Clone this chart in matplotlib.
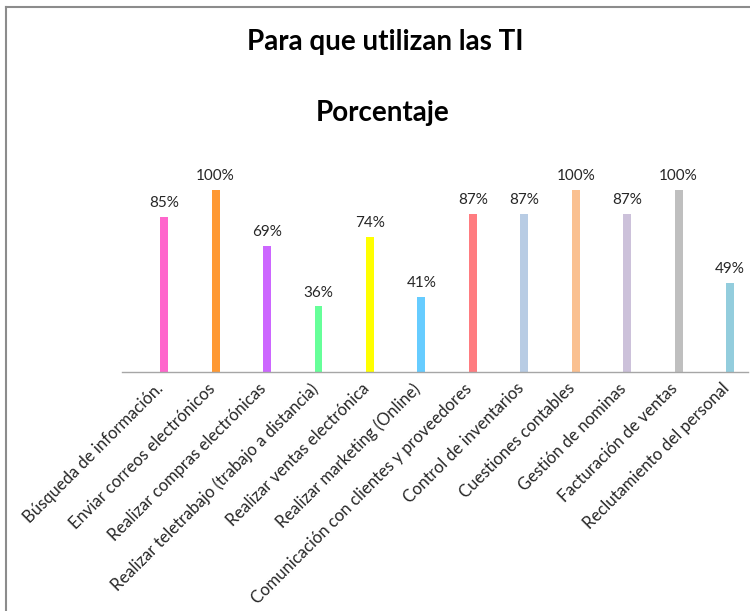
import matplotlib.pyplot as plt
import matplotlib.transforms as mtransforms
from matplotlib.lines import Line2D

plt.rcParams["font.family"] = ["Lato", "DejaVu Sans"]

categories = [
    "Búsqueda de información.",
    "Enviar correos electrónicos",
    "Realizar compras electrónicas",
    "Realizar teletrabajo (trabajo a distancia)",
    "Realizar ventas electrónica",
    "Realizar marketing (Online)",
    "Comunicación con clientes y proveedores",
    "Control de inventarios",
    "Cuestiones contables",
    "Gestión de nominas",
    "Facturación de ventas",
    "Reclutamiento del personal",
]
values = [85, 100, 69, 36, 74, 41, 87, 87, 100, 87, 100, 49]
colors = [
    "#FF66CC", "#FF9933", "#CC66FF", "#66FF99", "#FFFF00", "#66CCFF",
    "#FF7C80", "#B8CCE4", "#FAC090", "#CCC1DA", "#BFBFBF", "#93CDDD",
]

W, H = 750, 611
fig = plt.figure(figsize=(W / 100, H / 100), dpi=100)
ax = fig.add_axes([122 / W, (H - 372) / H, 626 / W, 182 / H])

x = list(range(len(values)))
ax.bar(x, values, width=0.155, color=colors, zorder=2)
ax.set_xlim(-0.82, 11.35)
ax.set_ylim(0, 100)

for xi, v in zip(x, values):
    ax.annotate(f"{v}%", (xi, v), xytext=(0, 5), textcoords="offset points",
                ha="center", va="bottom", fontsize=11, color="#262626",
                annotation_clip=False)

ax.set_xticks(x)
ax.set_xticklabels(categories, rotation=45, ha="right", va="top",
                   rotation_mode="anchor", fontsize=12, color="#262626")
ax.tick_params(axis="x", length=0, pad=6)
shift = mtransforms.ScaledTranslation(-9 / 100, 0, fig.dpi_scale_trans)
for lab in ax.get_xticklabels():
    lab.set_transform(lab.get_transform() + shift)
ax.set_yticks([])
for side in ["top", "right", "left"]:
    ax.spines[side].set_visible(False)
ax.spines["bottom"].set_color("#A6A6A6")
ax.spines["bottom"].set_linewidth(1)

fig.text(385 / W, 1 - 42 / H, "Para que utilizan las TI", ha="center", va="center",
         fontsize=20, fontweight="bold", color="black")
fig.text(383 / W, 1 - 113 / H, "Porcentaje", ha="center", va="center",
         fontsize=20, fontweight="bold", color="black")

# grey frame on the top and left edges
fig.add_artist(Line2D([5.5 / W, 5.5 / W], [0, 1 - 6.5 / H], color="#8C8C8C", lw=1.5))
fig.add_artist(Line2D([5.5 / W, 1], [1 - 6.5 / H, 1 - 6.5 / H], color="#8C8C8C", lw=1.5))

fig.savefig("out.png", dpi=100)
